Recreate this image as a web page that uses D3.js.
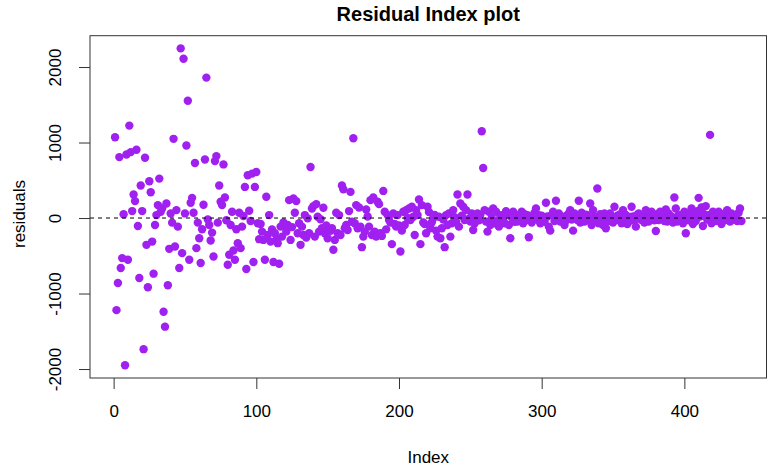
<!DOCTYPE html>
<html>
<head>
<meta charset="utf-8">
<script src="https://cdn.jsdelivr.net/npm/d3@7"></script>
<style>
  body { margin: 0; background: #fff; }
  svg { display: block; font-family: Arial, "Liberation Sans", sans-serif; }
</style>
</head>
<body>
<div id="chart"></div>
<script>
// residuals, one per observation (index = position + 1)
const residuals = [
  1070, -1220, -860, 807, -662, -531, 49, -1951, 842, -553,
  1224, 873, 92, 312, 224, 904, -105, -794, 430, 92,
  -1737, 799, -355, -917, 487, 342, -312, -737, -92, 39,
  171, 522, 83, 127, -1241, -1439, 193, -890, -408, 61,
  -61, 1049, -377, 105, -114, -662, 2247, -465, 2110, 61,
  961, 1553, -553, 202, 267, 70, 728, -399, -61, -268,
  -596, -149, 175, 776, 1860, -18, -92, -298, -193, -509,
  754, 820, -61, 430, 215, 171, 710, 272, -30, -619,
  -487, -92, 83, -430, -553, -149, -333, 70, -399, -114,
  26, 412, -675, 566, 96, -40, 588, -583, 412, 610,
  -70, -280, -79, -180, -290, -553, 281, -224, 39, -312,
  -150, -583, -202, -290, -333, -605, -114, -246, -60, -92,
  -180, -92, 237, -290, -120, 259, 70, 224, -202, -70,
  -355, -114, -224, 39, -260, -4, -202, 675, 127, 158,
  -246, 184, 17, -180, -17, -136, 136, -202, -100, -268,
  -158, -170, -136, -421, -290, 70, -202, 39, -224, 430,
  380, -136, -92, -158, 92, 346, -50, 1057, -70, 171,
  -136, 140, -114, -386, -246, -180, 114, 20, -114, 237,
  -224, 272, -180, -246, 215, 184, -202, -237, 359, 83,
  -150, 39, -26, -61, -346, 60, -79, -114, 39, -100,
  -443, -167, 83, -92, 105, 0, 127, -26, 149, 17,
  -224, 105, 39, 246, -346, 171, -60, -79, -202, 149,
  80, -136, -57, -4, 40, -167, -246, 17, -268, -136,
  -20, -386, 39, -92, 61, -246, -70, 105, 10, -48,
  312, -114, 193, 30, 149, -26, 105, 312, -10, -48,
  61, -158, -70, 20, 61, -30, 45, 1149, 662, 105,
  -48, -180, 83, -92, 0, 127, -70, 83, -40, -114,
  30, 39, -20, -70, 90, 61, -92, -268, 10, 83,
  -50, 40, -48, -20, 17, 83, -70, 50, -30, 39,
  -254, 17, -60, -26, 70, 127, -10, 39, -70, 30,
  -4, -50, 202, 20, -114, -167, 39, 83, -40, 228,
  17, 60, -48, -15, 17, -92, -30, 39, 60, 105,
  -20, -167, 61, 10, -26, 228, -60, 70, 20, -48,
  45, 39, -30, 193, -92, 105, 17, -10, 391, -70,
  50, -40, -92, 61, -136, 20, -40, 61, 10, -60,
  149, -26, 30, -10, 50, -70, 105, -20, 40, -80,
  -48, 15, 149, 20, -30, -114, 45, 61, -10, -26,
  30, -60, 105, 10, -48, 40, 83, 20, -30, -171,
  50, -26, 83, -10, 30, -40, 114, -48, 60, -20,
  20, -60, 272, 127, -48, 40, 30, -20, -70, 83,
  -202, 50, -30, 60, 127, -79, 17, -40, 90, 267,
  20, 140, -105, 50, 158, -20, 39, 1101, -70, 83,
  10, -40, 60, 83, -20, -79, 39, -30, 70, 105,
  10, -48, 61, -20, 30, 39, -40, 70, 127, -40
];
const xTicks = [0, 100, 200, 300, 400];
const yTicks = [-2000, -1000, 0, 1000, 2000];

//////////////  Init  //////////////
const width = 768;
const height = 466;
const box = { left: 90, right: 766.5, top: 35.7, bottom: 378 };
const fontSize = 17;

const svg = d3.select("#chart").append("svg")
  .attr("width", width)
  .attr("height", height);

// R style axis range: data extent stretched by 4% each side
const pad = (e) => {
  const r = e[1] - e[0];
  return [e[0] - 0.04 * r, e[1] + 0.04 * r];
};

const data = residuals.map((v, i) => ({ index: i + 1, value: v }));

const xScale = d3.scaleLinear()
  .domain(pad([1, residuals.length]))
  .range([box.left, box.right]);
const yScale = d3.scaleLinear()
  .domain(pad(d3.extent(residuals)))
  .range([box.bottom, box.top]);

const plainNum = (d) => String(d); // plain hyphen, no thousands comma

// points
svg.append("g")
  .selectAll("circle")
  .data(data)
  .join("circle")
  .attr("cx", (d) => xScale(d.index))
  .attr("cy", (d) => yScale(d.value))
  .attr("r", 4.2)
  .attr("fill", "#A020F0");

// zero line
svg.append("line")
  .attr("x1", box.left)
  .attr("x2", box.right)
  .attr("y1", yScale(0))
  .attr("y2", yScale(0))
  .attr("stroke", "#000")
  .attr("stroke-width", 1)
  .attr("stroke-dasharray", "4,4");

// x axis
const xAxis = d3.axisBottom(xScale)
  .tickValues(xTicks)
  .tickFormat(plainNum)
  .tickSize(11)
  .tickSizeOuter(0)
  .tickPadding(16);
const gx = svg.append("g")
  .attr("transform", `translate(0,${box.bottom})`)
  .call(xAxis);
gx.select(".domain").remove();
gx.selectAll("line").attr("stroke", "#333");
gx.selectAll("text")
  .attr("font-size", fontSize)
  .attr("font-family", "Arial, 'Liberation Sans', sans-serif")
  .attr("fill", "#000");

// y axis, labels parallel to the axis
const yAxis = d3.axisLeft(yScale)
  .tickValues(yTicks)
  .tickFormat(plainNum)
  .tickSize(11)
  .tickSizeOuter(0);
const gy = svg.append("g")
  .attr("transform", `translate(${box.left},0)`)
  .call(yAxis);
gy.select(".domain").remove();
gy.selectAll("line").attr("stroke", "#333");
gy.selectAll("text")
  .attr("x", null)
  .attr("dy", null)
  .attr("transform", "translate(-29,0) rotate(-90)")
  .attr("text-anchor", "middle")
  .attr("font-size", fontSize)
  .attr("font-family", "Arial, 'Liberation Sans', sans-serif")
  .attr("fill", "#000");

// box
svg.append("rect")
  .attr("x", box.left)
  .attr("y", box.top)
  .attr("width", box.right - box.left)
  .attr("height", box.bottom - box.top)
  .attr("fill", "none")
  .attr("stroke", "#333")
  .attr("stroke-width", 1);

// titles
svg.append("text")
  .attr("x", (box.left + box.right) / 2)
  .attr("y", 21)
  .attr("text-anchor", "middle")
  .attr("font-size", 20)
  .attr("font-weight", "bold")
  .text("Residual Index plot");

svg.append("text")
  .attr("x", (box.left + box.right) / 2)
  .attr("y", 463)
  .attr("text-anchor", "middle")
  .attr("font-size", fontSize)
  .text("Index");

svg.append("text")
  .attr("transform", "translate(25,214) rotate(-90)")
  .attr("text-anchor", "middle")
  .attr("font-size", fontSize)
  .text("residuals");
</script>
</body>
</html>
